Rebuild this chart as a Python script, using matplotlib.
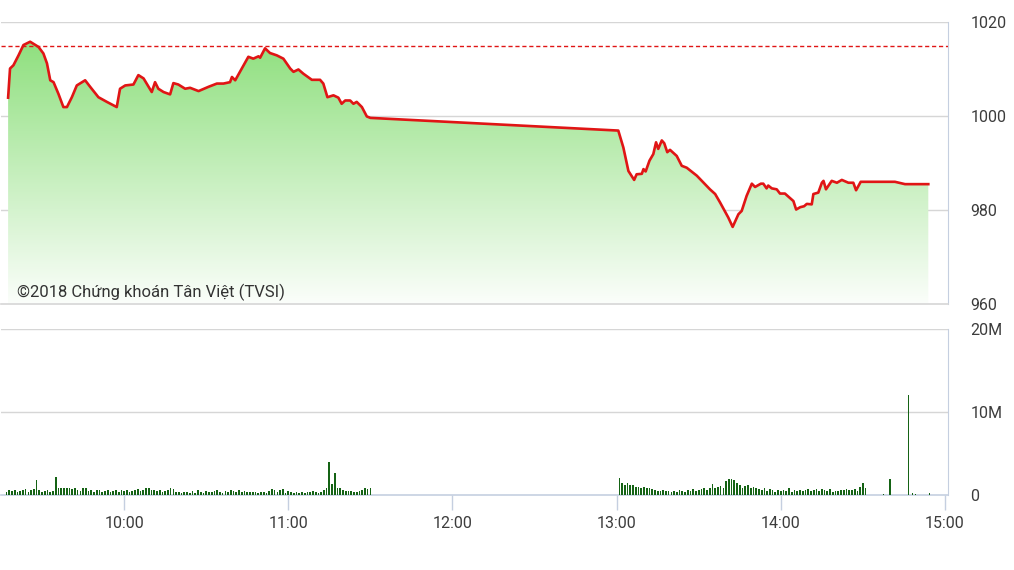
import numpy as np
import matplotlib
matplotlib.use("Agg")
import matplotlib.pyplot as plt
from matplotlib.colors import LinearSegmentedColormap

plt.rcParams['font.family'] = ['Roboto', 'DejaVu Sans']

# ---- data (time = minutes after 9:00) ----
price_t = [17.6, 18.3, 19.55, 21.4, 23.2, 25.65, 28.7, 30.5, 31.8, 33.0, 34.2, 36.0, 37.8, 39.1,
           40.9, 42.7, 45.75, 47.6, 50.6, 53.7, 57.3, 58.5, 60.4, 63.4, 65.2, 67.1, 70.1, 71.3,
           72.5, 74.4, 76.8, 78.0, 79.8, 82.3, 84.1, 87.2, 90.8, 93.9, 96.3, 98.7, 99.4, 100.6,
           103.0, 105.4, 107.2, 109.1, 109.7, 111.5, 113.3, 115.8, 118.2, 120.7, 121.9, 123.7,
           125.5, 128.6, 131.6, 132.8, 134.3, 136.5, 138.3, 139.5, 140.8, 142.6, 143.8, 145.0,
           146.9, 148.7, 150.0,
           240.6, 242.45, 244.3, 246.4, 247.3, 249.2, 249.8, 250.6, 252.0, 253.4, 254.4, 255.2,
           256.5, 257.4, 258.5, 259.5, 261.96, 263.8, 265.6, 269.3, 272.9, 274.1, 276.0, 277.8,
           280.8, 282.4, 284.5, 285.7, 287.5, 289.4, 290.6, 292.7, 293.6, 294.8, 295.4, 296.7,
           298.5, 299.7, 301.5, 303.4, 304.6, 305.6, 307.1, 308.5, 309.5, 311.3, 311.9, 313.7,
           315.0, 315.6, 316.5, 318.6, 320.5, 322.3, 324.7, 326.5, 327.5, 329.2, 341.7, 345.4,
           353.9]
price_v = [1003.9, 1010.1, 1010.8, 1012.9, 1015.1, 1015.8, 1014.7, 1013.3, 1011.2, 1007.6, 1007.2,
           1004.7, 1001.9, 1001.9, 1004.0, 1006.5, 1007.6, 1006.2, 1004.0, 1003.0, 1001.9, 1005.8,
           1006.5, 1006.7, 1008.7, 1008.0, 1005.1, 1007.2, 1005.8, 1005.1, 1004.6, 1007.0, 1006.7,
           1005.8, 1006.0, 1005.3, 1006.2, 1006.9, 1006.9, 1007.2, 1008.3, 1007.6, 1010.1, 1012.6,
           1012.2, 1012.7, 1012.4, 1014.4, 1013.4, 1012.9, 1012.2, 1010.1, 1009.4, 1009.9, 1009.0,
           1007.7, 1007.7, 1006.9, 1004.0, 1004.4, 1003.9, 1002.6, 1003.3, 1003.3, 1002.6, 1003.0,
           1001.9, 999.9, 999.6,
           996.9, 993.3, 988.3, 986.4, 987.6, 987.7, 988.7, 988.2, 990.5, 991.9, 994.4, 993.0,
           994.8, 994.2, 992.3, 992.8, 991.5, 989.4, 989.0, 987.3, 985.1, 984.4, 983.4, 981.6,
           978.4, 976.4, 979.1, 979.8, 983.0, 985.6, 984.9, 985.6, 985.6, 984.6, 985.2, 984.6,
           984.4, 983.5, 983.5, 982.5, 981.9, 980.1, 980.6, 980.8, 981.3, 981.2, 983.4, 983.7,
           985.8, 986.2, 984.4, 986.2, 985.8, 986.4, 985.8, 985.8, 984.2, 986.0, 986.0, 985.5,
           985.5]
ref_level = 1014.87

# volume (millions), one bar per minute
vol_am_start = 17   # 9:17
vol_am = [0.4, 0.6, 0.5, 0.6, 0.4, 0.5, 0.6, 0.7, 0.4, 0.6,
          0.7, 1.8, 0.6, 0.4, 0.5, 0.6, 0.4, 0.5, 2.2, 0.9,
          0.9, 0.9, 0.8, 0.9, 0.7, 0.8, 0.6, 0.5, 0.9, 0.8,
          0.5, 0.6, 0.4, 0.6, 0.6, 0.4, 0.5, 0.6, 0.4, 0.5,
          0.6, 0.4, 0.6, 0.5, 0.6, 0.4, 0.5, 0.6, 0.7, 0.5,
          0.6, 0.8, 0.8, 0.6, 0.6, 0.5, 0.6, 0.4, 0.5, 0.6,
          0.9, 0.7, 0.4, 0.4, 0.3, 0.4, 0.4, 0.3, 0.5, 0.3,
          0.6, 0.4, 0.3, 0.5, 0.4, 0.4, 0.5, 0.6, 0.4, 0.3,
          0.5, 0.4, 0.6, 0.5, 0.4, 0.6, 0.4, 0.5, 0.4, 0.4,
          0.4, 0.4, 0.3, 0.4, 0.4, 0.3, 0.5, 0.7, 0.6, 0.4,
          0.6, 0.7, 0.3, 0.5, 0.4, 0.3, 0.4, 0.3, 0.4, 0.3,
          0.4, 0.4, 0.5, 0.4, 0.3, 0.4, 0.6, 0.9,
          4.0, 1.3, 2.7, 0.9, 0.8, 0.6, 0.5, 0.5, 0.5, 0.4,
          0.4, 0.5, 0.6, 0.8, 0.7, 0.8]
vol_pm_start = 241  # 13:01
vol_pm = [2.1, 1.4, 1.2, 1.5, 1.2, 1.2, 1.0, 1.0, 0.9, 1.0,
          0.8, 0.8, 0.7, 0.6, 0.5, 0.5, 0.6, 0.5, 0.5, 0.4,
          0.5, 0.4, 0.6, 0.5, 0.4, 0.6, 0.5, 0.7, 0.5, 0.6,
          0.7, 0.9, 0.6, 0.9, 1.3, 0.9, 1.0, 1.1, 0.8, 1.7,
          1.9, 1.9, 1.8, 1.4, 1.2, 0.9, 1.1, 1.2, 0.8, 1.0,
          0.9, 0.7, 0.6, 0.8, 0.5, 0.7, 0.6, 0.4, 0.6, 0.5,
          0.6, 0.5, 0.8, 0.4, 0.6, 0.5, 0.6, 0.5, 0.6, 0.7,
          0.5, 0.6, 0.7, 0.5, 0.7, 0.6, 0.5, 0.7, 0.4, 0.5,
          0.5, 0.6, 0.6, 0.7, 0.6, 0.6, 0.7, 0.5, 1.0, 1.4, 0.8]
vol_late_t = [337.4, 339.9, 346.6, 348.2, 349.2, 354.5]
vol_late = [0.15, 1.9, 12.1, 0.25, 0.15, 0.25]

x_ticks = [60, 120, 180, 240, 300, 360]
x_labels = ["10:00", "11:00", "12:00", "13:00", "14:00", "15:00"]
p_ticks = [960, 980, 1000, 1020]
v_ticks = [0, 10, 20]
v_labels = ["0", "10M", "20M"]
credit = "©2018 Chứng khoán Tân Việt (TVSI)"

# ---- figure ----
W, H = 1014, 570
fig = plt.figure(figsize=(W / 100, H / 100), dpi=100)
ax1 = fig.add_axes([1 / W, (H - 304) / H, 947 / W, 282 / H])
ax2 = fig.add_axes([1 / W, (H - 495) / H, 947 / W, 166 / H])

xmin, xmax = 15.0, 361.1
grid_c = '#d6d6d6'
axis_c = '#c5cfe0'
lab_c = '#3c3c3c'
fs = 11.5

# price panel
ax1.set_xlim(xmin, xmax)
ax1.set_ylim(960, 1020)
poly = ax1.fill_between(price_t, price_v, 960, color='none', lw=0)
cmap = LinearSegmentedColormap.from_list('g', ['#ffffff', '#8ddf7c'])
grad = np.linspace(0, 1, 256).reshape(-1, 1)
im = ax1.imshow(grad, extent=[xmin, xmax, 958, 1017], origin='lower', aspect='auto',
                cmap=cmap, zorder=1)
im.set_clip_path(poly.get_paths()[0], transform=ax1.transData)
ax1.set_ylim(960, 1020)
ax1.plot(price_t, price_v, color='#e01515', lw=1.9, zorder=4, solid_joinstyle='round')
ax1.axhline(ref_level, color='#e01515', lw=1.0, ls=(0, (3, 2)), zorder=4)
for v in p_ticks[1:]:
    ax1.axhline(v, color=grid_c, lw=1.0, zorder=0)
ax1.set_yticks(p_ticks)
ax1.set_yticklabels([str(v) for v in p_ticks])
ax1.yaxis.tick_right()
ax1.tick_params(axis='y', length=0, pad=16, labelsize=fs, labelcolor=lab_c)
ax1.set_xticks([])
for s in ['left', 'top']:
    ax1.spines[s].set_visible(False)
ax1.spines['right'].set_color(axis_c)
ax1.spines['bottom'].set_color(grid_c)
ax1.spines['bottom'].set_linewidth(1.2)

fig.text(17 / W, 1 - 292 / H, credit, fontsize=12.0, color='#333333', va='center', ha='left')

# volume panel
t_am = vol_am_start + np.arange(len(vol_am))
t_pm = vol_pm_start + np.arange(len(vol_pm))
bar_c = '#156315'
ax2.bar(t_am, vol_am, width=0.62, color=bar_c, zorder=3)
ax2.bar(t_pm, vol_pm, width=0.62, color=bar_c, zorder=3)
ax2.bar(vol_late_t, vol_late, width=0.4, color=bar_c, zorder=3)
ax2.set_xlim(xmin, xmax)
ax2.set_ylim(0, 20)
for v in v_ticks[1:]:
    ax2.axhline(v, color=grid_c, lw=1.0, zorder=0)
ax2.set_yticks(v_ticks)
ax2.set_yticklabels(v_labels)
ax2.yaxis.tick_right()
ax2.tick_params(axis='y', length=0, pad=16, labelsize=fs, labelcolor=lab_c)
ax2.set_xticks(x_ticks)
ax2.set_xticklabels(x_labels)
ax2.tick_params(axis='x', length=11, width=1, color=axis_c, pad=4, labelsize=fs,
                labelcolor=lab_c)
for s in ['left', 'top']:
    ax2.spines[s].set_visible(False)
ax2.spines['right'].set_color(axis_c)
ax2.spines['bottom'].set_color(axis_c)
ax2.spines['bottom'].set_linewidth(1.2)

fig.savefig('out.png', dpi=100, facecolor='white')
